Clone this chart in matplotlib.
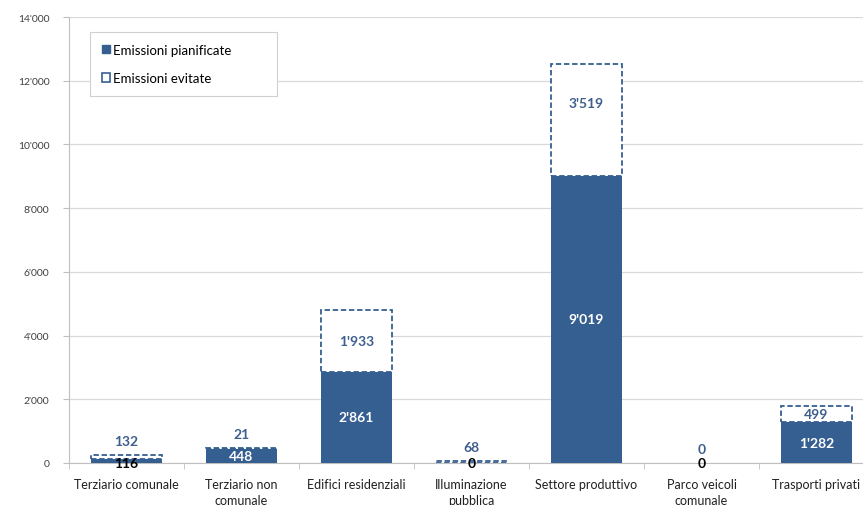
import matplotlib.pyplot as plt
from matplotlib.patches import Patch
import numpy as np

# data
categories = ['Terziario comunale', 'Terziario non\ncomunale', 'Edifici residenziali',
              'Illuminazione\npubblica', 'Settore produttivo', 'Parco veicoli\ncomunale',
              'Trasporti privati']
pianificate = [116, 448, 2861, 0, 9019, 0, 1282]
evitate = [132, 21, 1933, 68, 3519, 0, 499]
yticks = [0, 2000, 4000, 6000, 8000, 10000, 12000, 14000]

blue = '#365F91'
label_blue = '#3E5F8E'

plt.rcParams['font.family'] = ['Lato', 'DejaVu Sans']

fig = plt.figure(figsize=(8.63, 5.06), dpi=100)
# axes runs past the right edge like the cropped original
ax = fig.add_axes([69 / 863, 42 / 506, 805 / 863, 446 / 506])

x = np.arange(len(categories))
w = 0.61
ax.bar(x, pianificate, w, color=blue, zorder=3)
edge_c = [blue if e > 0 else 'none' for e in evitate]
ax.bar(x, evitate, w, bottom=pianificate, facecolor='white', edgecolor=edge_c,
       linestyle=(0, (3, 1.5)), linewidth=1.3, zorder=3)

def fmt(v):
    return f'{v:,}'.replace(',', "'")

for i in range(len(categories)):
    p = pianificate[i]
    e = evitate[i]
    # planned value label
    if p > 300:
        ax.text(x[i], p / 2, fmt(p), ha='center', va='center', color='white',
                fontsize=10, fontweight='bold', zorder=5)
    else:
        ax.text(x[i], 0, fmt(p), ha='center', va='center', color='black',
                fontsize=10, fontweight='bold', zorder=5)
    # avoided value label
    if e > 3000:
        ax.text(x[i], p + e * 0.65, fmt(e), ha='center', va='center', color=label_blue,
                fontsize=10, fontweight='bold', zorder=5)
    elif e > 300:
        ax.text(x[i], p + e / 2, fmt(e), ha='center', va='center', color=label_blue,
                fontsize=10, fontweight='bold', zorder=5)
    else:
        ax.annotate(fmt(e), (x[i], p + e), xytext=(0, 10), textcoords='offset points',
                    ha='center', va='center', color=label_blue,
                    fontsize=10, fontweight='bold', zorder=5)

ax.set_xlim(-0.5, len(categories) - 0.5)
ax.set_ylim(0, 14000)
ax.set_yticks(yticks)
ax.set_yticklabels([fmt(t) for t in yticks], fontsize=7.5, color='#404040')
ax.set_xticks(x)
ax.set_xticklabels(categories, fontsize=9, color='#202020', linespacing=1.4)
ax.tick_params(axis='x', length=0, pad=11)
ax.set_xticks(np.arange(len(categories) + 1) - 0.5, minor=True)
ax.tick_params(axis='x', which='minor', length=4, color='#BFBFBF')
ax.tick_params(axis='y', length=4, color='#BFBFBF', pad=10)
ax.grid(axis='y', color='#D9D9D9', linewidth=0.9, zorder=0)
for s in ['top', 'right']:
    ax.spines[s].set_visible(False)
ax.spines['left'].set_color('#BFBFBF')
ax.spines['bottom'].set_color('#BFBFBF')

handles = [Patch(facecolor=blue, edgecolor=blue),
           Patch(facecolor='white', edgecolor=blue, linewidth=1.2)]
leg = ax.legend(handles, ['Emissioni pianificate', 'Emissioni evitate'],
                loc='upper left', bbox_to_anchor=(0.026, 0.967, 0.232, 0.0),
                mode='expand', fontsize=9.5,
                handlelength=0.65, handleheight=0.65, handletextpad=0.2,
                labelspacing=1.25, borderpad=0.9, borderaxespad=0,
                fancybox=False, framealpha=1, edgecolor='#D0D0D0')
leg.get_frame().set_linewidth(0.8)
leg.set_zorder(6)

fig.savefig('out.png', dpi=100)
